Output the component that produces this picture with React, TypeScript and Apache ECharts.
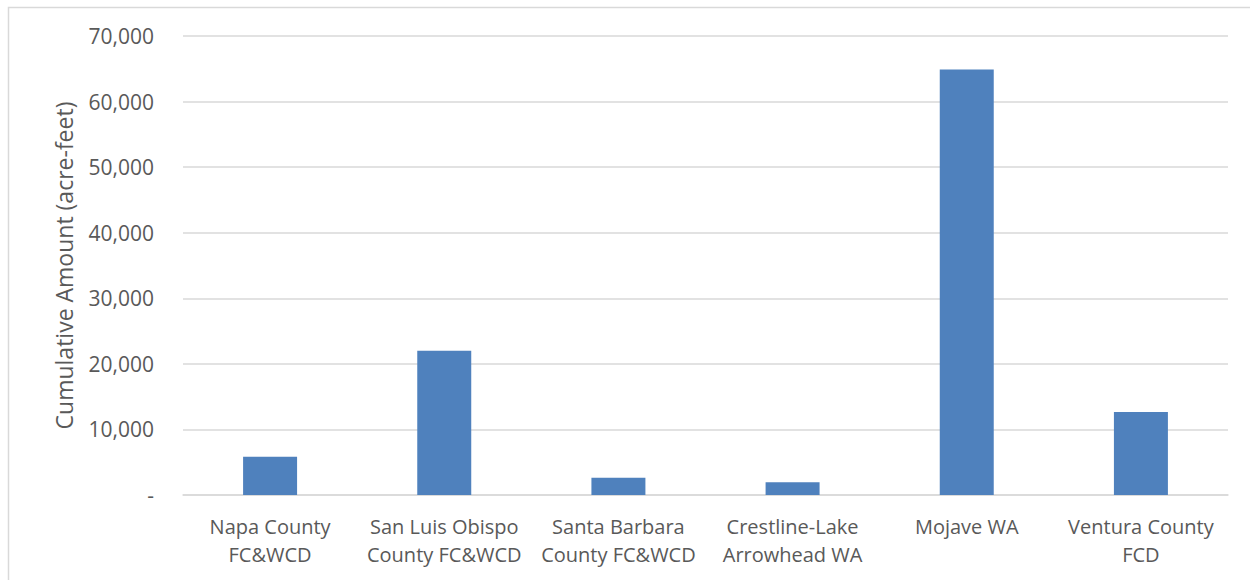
import React, { useEffect, useRef } from "react";
import * as echarts from "echarts";

const categories = [
  "Napa County\nFC&WCD",
  "San Luis Obispo\nCounty FC&WCD",
  "Santa Barbara\nCounty FC&WCD",
  "Crestline-Lake\nArrowhead WA",
  "Mojave WA",
  "Ventura County\nFCD",
];
const values = [5850, 22000, 2640, 1930, 64900, 12660];
const yAxisTitle = "Cumulative Amount (acre-feet)";

const FONT = "'Open Sans', 'Noto Sans', sans-serif";

export default function App() {
  const ref = useRef<HTMLDivElement>(null);
  useEffect(() => {
    if (!ref.current) return;
    const chart = echarts.init(ref.current, null, { renderer: "svg" });
    chart.setOption({
      animation: false,
      backgroundColor: "#ffffff",
      graphic: [
        {
          type: "rect",
          shape: { x: 8.5, y: 7.5, width: 1400, height: 700 },
          style: { fill: "none", stroke: "#d9d9d9", lineWidth: 1.5 },
          silent: true,
        },
      ],
      grid: { left: 183, right: 22, top: 36, bottom: 85, containLabel: false },
      xAxis: {
        type: "category",
        data: categories,
        axisTick: { show: false },
        axisLine: { show: true, lineStyle: { color: "#d9d9d9", width: 1.5 } },
        axisLabel: {
          color: "#595959",
          fontFamily: FONT,
          fontSize: 20,
          lineHeight: 28,
          margin: 17,
          interval: 0,
        },
      },
      yAxis: {
        type: "value",
        min: 0,
        max: 70000,
        interval: 10000,
        name: yAxisTitle,
        nameLocation: "middle",
        nameGap: 108,
        nameTextStyle: { color: "#595959", fontFamily: FONT, fontSize: 23 },
        axisLine: { show: false },
        axisTick: { show: false },
        splitLine: { lineStyle: { color: "#d9d9d9", width: 1.5 } },
        axisLabel: {
          color: "#595959",
          fontFamily: FONT,
          fontSize: 21,
          margin: 29,
          formatter: (v: number) => (v === 0 ? "-" : v.toLocaleString("en-US")),
        },
      },
      series: [
        {
          type: "bar",
          data: values,
          barWidth: "31%",
          itemStyle: { color: "#4f81bd" },
        },
      ],
    });
    return () => chart.dispose();
  }, []);
  return (
    <div
      ref={ref}
      style={{ position: "absolute", left: 0, top: 0, width: 1250, height: 580 }}
    />
  );
}
